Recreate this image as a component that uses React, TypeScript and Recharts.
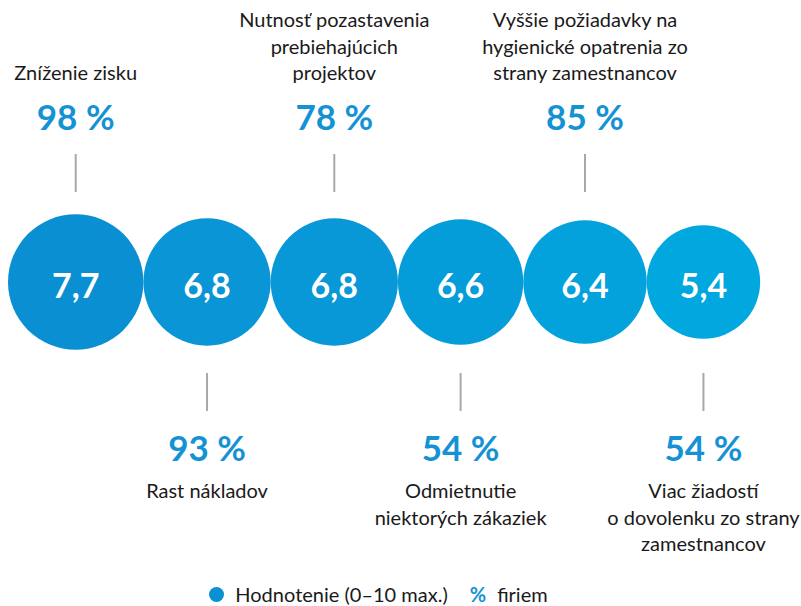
import { ScatterChart, Scatter, XAxis, YAxis } from "recharts";

const labels = [
  ["Zníženie zisku"],
  ["Rast nákladov"],
  ["Nutnosť pozastavenia", "prebiehajúcich", "projektov"],
  ["Odmietnutie", "niektorých zákaziek"],
  ["Vyššie požiadavky na", "hygienické opatrenia zo", "strany zamestnancov"],
  ["Viac žiadostí", "o dovolenku zo strany", "zamestnancov"],
];
const ratings = [7.7, 6.8, 6.8, 6.6, 6.4, 5.4];
const shares = [98, 93, 78, 54, 85, 54];
const colors = ["#0b8fd3", "#0995d6", "#0897d7", "#059cda", "#03a2dd", "#00a8df"];

const W = 801;
const H = 606;
const FONT = "Lato, 'Noto Sans', sans-serif";
const BLUE = "#1592d4";
const LINE_H = 26.5;

// bubble area ~ rating, bubbles chained edge to edge
const radius = (v: number) => 24.4 * Math.sqrt(v);
const START = 8;
const ROW_Y = 282;

const data = (() => {
  let edge = START;
  return ratings.map((v, i) => {
    const r = radius(v);
    const x = edge + r;
    edge += 2 * r;
    return { x, y: ROW_Y, v, r, share: shares[i], label: labels[i], color: colors[i], up: i % 2 === 0 };
  });
})();

const fmt = (n: number) => n.toFixed(1).replace(".", ",");

function Bubble(props: any) {
  const { cx, cy, payload } = props;
  const p = payload;
  const lines: string[] = p.label;
  return (
    <g>
      <circle cx={cx} cy={cy} r={p.r} fill={p.color} />
      <text
        x={cx}
        y={cy + 2}
        textAnchor="middle"
        dominantBaseline="central"
        fill="#fff"
        fontFamily={FONT}
        fontWeight={700}
        fontSize={34}
      >
        {fmt(p.v)}
      </text>
      {p.up ? (
        <g>
          <line x1={cx} x2={cx} y1={cy - 128} y2={cy - 90} stroke="#a8a8a8" strokeWidth={2} />
          <text x={cx} y={cy - 166} textAnchor="middle" dominantBaseline="central" fill={BLUE} fontFamily={FONT} fontWeight={700} fontSize={35}>
            {p.share} %
          </text>
          {lines.map((t, k) => (
            <text
              key={k}
              x={cx}
              y={cy - 210 - (lines.length - 1 - k) * LINE_H}
              textAnchor="middle"
              dominantBaseline="central"
              fill="#1a1a1a"
              fontFamily={FONT}
              fontSize={20}
            >
              {t}
            </text>
          ))}
        </g>
      ) : (
        <g>
          <line x1={cx} x2={cx} y1={cy + 91} y2={cy + 129} stroke="#a8a8a8" strokeWidth={2} />
          <text x={cx} y={cy + 165} textAnchor="middle" dominantBaseline="central" fill={BLUE} fontFamily={FONT} fontWeight={700} fontSize={35}>
            {p.share} %
          </text>
          {lines.map((t, k) => (
            <text
              key={k}
              x={cx}
              y={cy + 208 + k * LINE_H}
              textAnchor="middle"
              dominantBaseline="central"
              fill="#1a1a1a"
              fontFamily={FONT}
              fontSize={20}
            >
              {t}
            </text>
          ))}
        </g>
      )}
    </g>
  );
}

function LegendBox() {
  return (
    <div
      style={{
        position: "absolute",
        left: -22,
        bottom: 0,
        width: W,
        display: "flex",
        alignItems: "center",
        justifyContent: "center",
        fontFamily: FONT,
        fontSize: 20,
        color: "#1a1a1a",
      }}
    >
      <span style={{ width: 15, height: 15, borderRadius: 8, background: "#0a90d4", display: "inline-block", marginRight: 11 }} />
      <span>Hodnotenie (0–10 max.)</span>
      <span style={{ color: BLUE, fontWeight: 700, marginLeft: 22, marginRight: 11 }}>%</span>
      <span>firiem</span>
    </div>
  );
}

export default function App() {
  return (
    <div style={{ position: "relative", width: W, height: H, background: "#fff" }}>
      <style>{"body{margin:0}"}</style>
      <ScatterChart width={W} height={H} margin={{ top: 0, right: 0, bottom: 0, left: 0 }}>
        <XAxis type="number" dataKey="x" domain={[0, W]} hide />
        <YAxis type="number" dataKey="y" domain={[0, H]} reversed hide />
        <Scatter data={data} shape={<Bubble />} isAnimationActive={false} />
      </ScatterChart>
      <LegendBox />
    </div>
  );
}
